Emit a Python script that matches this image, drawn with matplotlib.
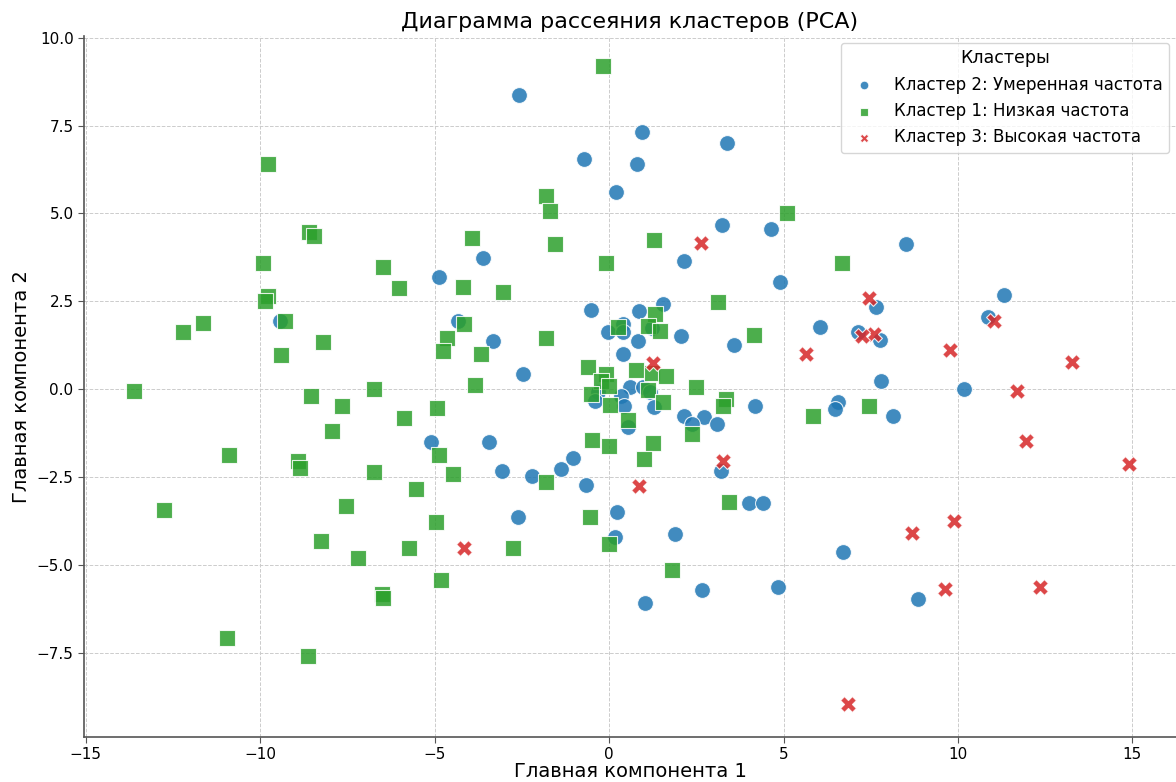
import numpy as np
import matplotlib
matplotlib.use("Agg")
import matplotlib.pyplot as plt

# Кластер 2: Умеренная частота (blue circles)
blue_x = [-2.57, 0.93, -0.73, 0.79, 3.39, 0.19, 3.25, 4.65, 8.51, 2.16,
          -3.62, -4.88, 4.90, 11.32, 1.56, 7.64, -0.53, 0.87, -9.42, -4.33,
          6.05, 10.86, 7.14, -0.04, 0.41, 0.41, 1.24, 2.07, -3.33, 3.59,
          7.76, 0.39, 0.84, -2.47, 7.79, 10.17, 0.61, 0.96, 1.16, -0.33,
          -0.39, 0.34, 0.43, 1.30, 4.19, 6.56, 6.47, 2.15, 2.73, 3.10,
          2.39, 8.14, 0.53, -5.10, -3.44, -1.04, -1.39, -3.07, -2.21, 3.22,
          -0.67, 0.23, -2.60, 4.02, 4.42, 0.17, 1.90, 6.71, 2.65, 4.83,
          1.03, 8.86]
blue_y = [8.36, 7.32, 6.55, 6.40, 7.00, 5.60, 4.66, 4.55, 4.12, 3.66,
          3.72, 3.20, 3.06, 2.69, 2.41, 2.34, 2.24, 2.21, 1.95, 1.95,
          1.78, 2.04, 1.64, 1.64, 1.84, 1.64, 1.73, 1.52, 1.38, 1.27,
          1.41, 1.01, 1.38, 0.44, 0.24, 0.01, 0.06, 0.06, -0.08, -0.08,
          -0.34, -0.20, -0.48, -0.51, -0.48, -0.36, -0.56, -0.76, -0.80, -0.99,
          -0.99, -0.76, -1.08, -1.51, -1.51, -1.97, -2.28, -2.34, -2.48, -2.34,
          -2.74, -3.51, -3.63, -3.25, -3.25, -4.20, -4.11, -4.63, -5.71, -5.63,
          -6.09, -5.97]

# Кластер 1: Низкая частота (green squares)
green_x = [-0.16, -9.79, -1.82, -1.70, -1.56, 5.10, -8.59, -8.45, -3.93, 1.30,
           -9.91, -6.48, -0.10, 6.68, -6.02, -4.19, -3.04, 3.13, -9.79, -9.85,
           -9.28, -11.63, -12.20, -4.16, 1.33, 0.27, 1.13, 1.47, 4.16, -4.65,
           -1.82, -8.19, -4.76, -9.39, -3.67, -0.61, 0.76, -0.10, 1.24, 1.62,
           -0.24, 0.01, -3.85, -13.63, -6.73, 1.13, 2.50, -0.53, -8.53, 0.04,
           1.56, 3.36, 3.27, -7.65, -4.94, 7.45, 5.85, -5.88, 0.53, -7.94,
           2.39, -0.50, 0.01, 1.27, -4.88, -10.88, 0.99, -8.91, -8.85, -6.73,
           -4.48, -1.82, -5.53, 3.44, -7.53, -12.77, -4.96, -0.56, -8.25, -2.76,
           -0.01, -5.73, -7.19, 1.79, -4.82, -6.50, -6.47, -10.94, -8.62]
green_y = [9.19, 6.40, 5.49, 5.06, 4.12, 5.00, 4.48, 4.37, 4.31, 4.25,
           3.60, 3.49, 3.58, 3.60, 2.89, 2.92, 2.77, 2.49, 2.65, 2.52,
           1.95, 1.87, 1.64, 1.84, 2.15, 1.78, 1.80, 1.66, 1.55, 1.46,
           1.46, 1.35, 1.09, 0.98, 1.01, 0.64, 0.55, 0.44, 0.46, 0.38,
           0.24, 0.10, 0.12, -0.05, 0.01, -0.02, 0.07, -0.13, -0.19, -0.44,
           -0.36, -0.28, -0.48, -0.48, -0.54, -0.48, -0.76, -0.82, -0.88, -1.19,
           -1.28, -1.45, -1.62, -1.53, -1.88, -1.88, -1.98, -2.05, -2.25, -2.36,
           -2.42, -2.65, -2.85, -3.22, -3.34, -3.45, -3.77, -3.65, -4.31, -4.51,
           -4.42, -4.51, -4.82, -5.16, -5.42, -5.82, -5.93, -7.07, -7.59]

# Кластер 3: Высокая частота (red crosses)
red_x = [2.64, 7.45, 7.59, 7.25, 5.65, 1.27, 3.27, 0.87, -4.16, 11.02,
         9.76, 13.26, 11.68, 11.94, 14.91, 8.68, 9.88, 9.62, 6.85, 12.34]
red_y = [4.15, 2.58, 1.58, 1.52, 1.01, 0.75, -2.05, -2.76, -4.53, 1.95,
         1.12, 0.78, -0.05, -1.48, -2.14, -4.10, -3.74, -5.68, -8.95, -5.62]

labels = ["Кластер 2: Умеренная частота",
          "Кластер 1: Низкая частота",
          "Кластер 3: Высокая частота"]
colors = ["#1f77b4", "#2ca02c", "#d62728"]
markers = ["o", "s", "X"]

plt.rcParams["font.family"] = "DejaVu Sans"

fig = plt.figure(figsize=(11.76, 7.82), dpi=100)
ax = fig.add_axes([84 / 1176, 1 - 737 / 782, 1 - 84 / 1176, 701 / 782])

series = [(blue_x, blue_y), (green_x, green_y), (red_x, red_y)]
for (xs, ys), lab, col, mk in zip(series, labels, colors, markers):
    ax.scatter(xs, ys, s=130, c=col, marker=mk, alpha=0.85,
               edgecolors="white", linewidths=0.8, label=lab, zorder=3)

ax.set_xlim(-15.05, 16.25)
ax.set_ylim(-9.9, 10.05)
ax.set_xticks([-15, -10, -5, 0, 5, 10, 15])
ax.set_yticks([-7.5, -5.0, -2.5, 0.0, 2.5, 5.0, 7.5, 10.0])

ax.grid(True, linestyle="--", color="#cccccc", linewidth=0.7)
ax.set_axisbelow(True)
for side in ["top", "right"]:
    ax.spines[side].set_visible(False)
for side in ["left", "bottom"]:
    ax.spines[side].set_color("#555555")
    ax.spines[side].set_linewidth(1.2)
ax.tick_params(labelsize=11, color="#555555", length=4)

ax.set_title("Диаграмма рассеяния кластеров (PCA)", fontsize=16, pad=6)
ax.set_xlabel("Главная компонента 1", fontsize=14, labelpad=0)
ax.set_ylabel("Главная компонента 2", fontsize=14)

leg = ax.legend(title="Кластеры", loc="upper right", fontsize=12,
                title_fontsize=12.5, markerscale=0.55, frameon=True,
                borderaxespad=0.4)
leg.get_frame().set_edgecolor("#cccccc")

fig.savefig("out.png", dpi=100)
